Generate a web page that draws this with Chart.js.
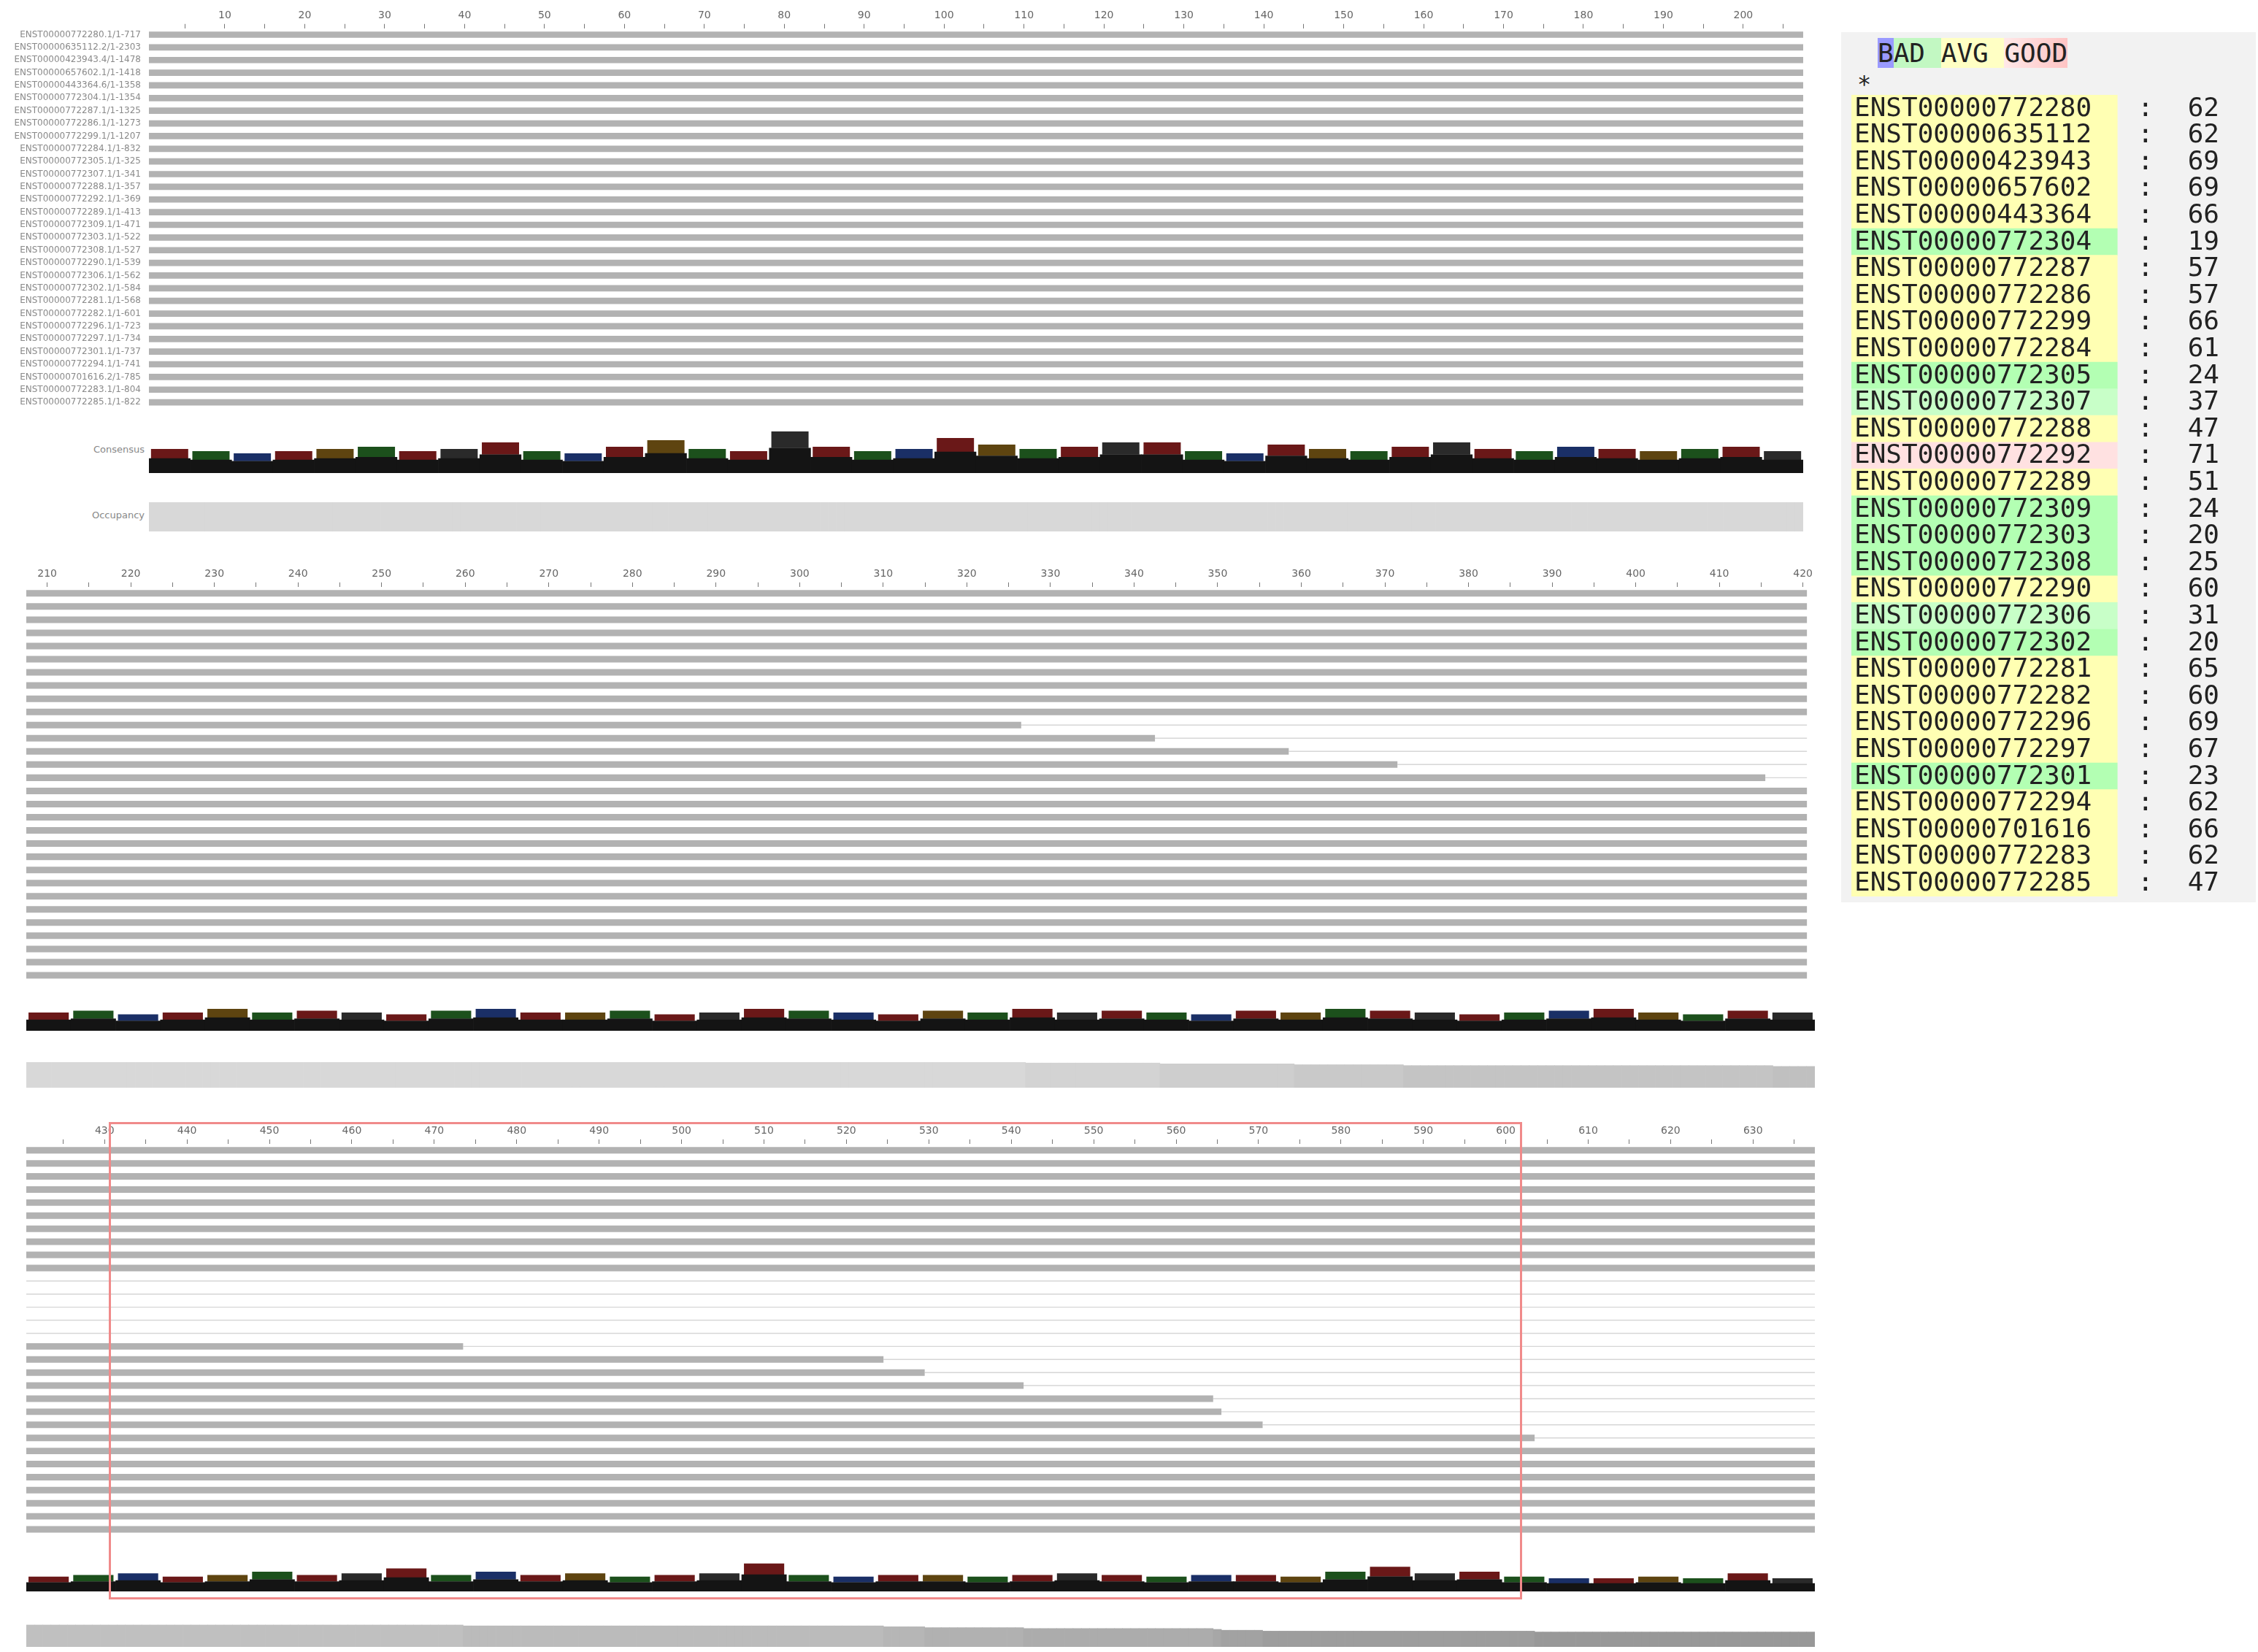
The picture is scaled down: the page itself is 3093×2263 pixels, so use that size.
<!DOCTYPE html>
<html><head><meta charset="utf-8">
<script src="https://cdn.jsdelivr.net/npm/chart.js@4"></script>
<style>
body{margin:0;background:#fff;width:3093px;height:2263px;position:relative;overflow:hidden;font-family:"DejaVu Sans",sans-serif}
.box{position:absolute}
.lbl{position:absolute;font-size:13px;color:#888;text-align:right;width:170px}
</style></head><body>
<script>
// ---------- DATA ----------
const transcripts = ["ENST00000772280","ENST00000635112","ENST00000423943","ENST00000657602","ENST00000443364","ENST00000772304","ENST00000772287","ENST00000772286","ENST00000772299","ENST00000772284","ENST00000772305","ENST00000772307","ENST00000772288","ENST00000772292","ENST00000772289","ENST00000772309","ENST00000772303","ENST00000772308","ENST00000772290","ENST00000772306","ENST00000772302","ENST00000772281","ENST00000772282","ENST00000772296","ENST00000772297","ENST00000772301","ENST00000772294","ENST00000701616","ENST00000772283","ENST00000772285"];
const versions = [1,2,4,1,6,1,1,1,1,1,1,1,1,1,1,1,1,1,1,1,1,1,1,1,1,1,1,2,1,1];
const seqLengths = [717,2303,1478,1418,1358,1354,1325,1273,1207,832,325,341,357,369,413,471,522,527,539,562,584,568,601,723,734,737,741,785,804,822];
const scores = [62,62,69,69,66,19,57,57,66,61,24,37,47,71,51,24,20,25,60,31,20,65,60,69,67,23,62,66,62,47];
// alignment column ranges of the three blocks
const blockStart = [1,208,421];
const blockEnd = [207,420,637];
// last aligned column of each row
const rowEnd = [637,637,637,637,637,637,637,637,637,637,326,342,358,371,415,473,524,529,541,564,565,570,603,637,637,637,637,637,637,637];
// consensus bar heights (0-1), binned, per block
const consensus1 = [.55,.5,.45,.5,.55,.6,.5,.55,.7,.5,.45,.6,.75,.55,.5,.95,.6,.5,.55,.8,.65,.55,.6,.7,.7,.5,.45,.65,.55,.5,.6,.7,.55,.5,.6,.55,.5,.55,.6,.5];
const consensus2 = [.5,.55,.45,.5,.6,.5,.55,.5,.45,.55,.6,.5,.5,.55,.45,.5,.6,.55,.5,.45,.55,.5,.6,.5,.55,.5,.45,.55,.5,.6,.55,.5,.45,.5,.55,.6,.5,.45,.55,.5];
const consensus3 = [.45,.5,.55,.45,.5,.6,.5,.55,.7,.5,.6,.5,.55,.45,.5,.55,.85,.5,.45,.5,.5,.45,.5,.55,.5,.45,.5,.5,.45,.6,.75,.55,.6,.45,.4,.4,.45,.4,.55,.4];
const consensusSets = [consensus1, consensus2, consensus3];
// ---------- LAYOUT ----------
Chart.defaults.font.family = '"DejaVu Sans", sans-serif';
const blockLayout = [
  {seq:[10,10,2460,560], cons:[204,588,2266,60], occ:[204,688,2266,40], labels:true},
  {seq:[36,775,2450,570], cons:[36,1362,2450,50], occ:[36,1455,2450,35], labels:false},
  {seq:[36,1538,2450,566], cons:[36,2135,2450,45], occ:[36,2220,2450,36], labels:false}
];
function box(r){const d=document.createElement('div');d.className='box';d.style.left=r[0]+'px';d.style.top=r[1]+'px';d.style.width=r[2]+'px';d.style.height=r[3]+'px';const c=document.createElement('canvas');d.appendChild(c);document.body.appendChild(d);return c;}
const rowLabels = transcripts.map((t,i)=>t+'.'+versions[i]+'/1-'+seqLengths[i]);
const topColors = ['#6a1818','#1c501c','#1a2f66','#6a1818','#5e4410','#1c501c','#6a1818','#2a2a2a'];
function occColor(v){const g=Math.round(150+(Math.max(v,0.55)-0.55)/0.45*66);return 'rgb('+g+','+g+','+g+')';}

blockLayout.forEach((L,b)=>{
  const s=blockStart[b], e=blockEnd[b];
  const seqBars=[], gapBars=[];
  rowEnd.forEach(re=>{
    const end=Math.min(re,e);
    seqBars.push(end>=s?[s-0.5,end+0.5]:null);
    gapBars.push(end<e?[Math.max(end,s-1)+0.5,e+0.5]:null);
  });
  new Chart(box(L.seq),{type:'bar',
    data:{labels:rowLabels,datasets:[
      {data:seqBars,backgroundColor:'#b2b2b2',barPercentage:0.5,categoryPercentage:1,grouped:false},
      {data:gapBars,backgroundColor:'#d6d6d6',barPercentage:0.08,categoryPercentage:1,grouped:false}]},
    options:{indexAxis:'y',responsive:true,maintainAspectRatio:false,animation:false,devicePixelRatio:1,
      layout:{padding:0},plugins:{legend:{display:false},tooltip:{enabled:false}},
      scales:{
        x:{type:'linear',position:'top',min:s-0.5,max:e+0.5,
          ticks:{stepSize:5,autoSkip:false,color:'#666',font:{size:14},maxRotation:0,
            callback:v=>(v%10===0?String(v):'')},
          afterBuildTicks:sc=>{const t=[];for(let v=Math.ceil(s/5)*5;v<=e;v+=5)t.push({value:v});sc.ticks=t;},
          grid:{drawOnChartArea:false,tickLength:6,color:'#777'},border:{display:false}},
        y:{display:L.labels,ticks:{color:'#8a8a8a',font:{size:12},autoSkip:false},grid:{display:false},border:{display:false},
          afterFit:sc=>{sc.width=L.labels?194:0;}}
      }}});
  // consensus
  const cons=consensusSets[b];
  new Chart(box(L.cons),{type:'bar',
    data:{labels:cons.map((_,i)=>i),datasets:[
      {data:cons.map(v=>v*0.6),backgroundColor:'#141414',stack:'c',barPercentage:1,categoryPercentage:1},
      {data:cons.map(v=>v*0.4),backgroundColor:cons.map((_,i)=>topColors[i%topColors.length]),stack:'c',barPercentage:1,categoryPercentage:0.9}]},
    options:{responsive:true,maintainAspectRatio:false,animation:false,devicePixelRatio:1,layout:{padding:0},
      plugins:{legend:{display:false},tooltip:{enabled:false}},
      scales:{x:{display:false,stacked:true},y:{display:false,stacked:true,min:0,max:1}}}});
  // occupancy (derived from row coverage)
  const cols=[],occ=[];
  for(let c=s;c<=e;c++){cols.push(c);occ.push(rowEnd.filter(r=>r>=c).length/rowEnd.length);}
  new Chart(box(L.occ),{type:'bar',
    data:{labels:cols,datasets:[{data:occ,backgroundColor:occ.map(occColor),barPercentage:1,categoryPercentage:1}]},
    options:{responsive:true,maintainAspectRatio:false,animation:false,devicePixelRatio:1,layout:{padding:0},
      plugins:{legend:{display:false},tooltip:{enabled:false}},
      scales:{x:{display:false},y:{display:false,min:0,max:1}}}});
});
// side labels
[['Consensus',608],['Occupancy',698]].forEach(([t,y])=>{const d=document.createElement('div');d.className='lbl';d.style.left='28px';d.style.top=y+'px';d.textContent=t;document.body.appendChild(d);});
// red selection box
const rb=document.createElement('div');rb.className='box';Object.assign(rb.style,{left:'149px',top:'1537px',width:'1930px',height:'648px',border:'3px solid #f08a8a'});document.body.appendChild(rb);

// ---------- score panel ----------
const panel=document.createElement('div');panel.className='box';
Object.assign(panel.style,{left:'2522px',top:'44px',width:'568px',height:'1192px',background:'#f2f2f2'});
panel.innerHTML='<div style="position:absolute;left:50px;top:8px;font:36px \'DejaVu Sans Mono\',monospace;line-height:42px;color:#222">'+
 '<span style="background:#9a9aff">B</span><span style="background:#c2f8c2">AD </span><span style="background:#ffffc4">AVG </span><span style="background:linear-gradient(90deg,#ffe8e8,#ffc4c4)">GOOD</span></div>'+
 '<div style="position:absolute;left:22px;top:52px;font:32px \'DejaVu Sans Mono\',monospace;color:#222">*</div>';
document.body.appendChild(panel);
function scoreColor(v){return v<30?'#b3ffb3':v<40?'#c8ffc8':v<70?'#ffffb3':'#ffe1e1';}
const pc=document.createElement('canvas');const pd=document.createElement('div');pd.className='box';
Object.assign(pd.style,{left:'2536px',top:'130px',width:'530px',height:'1098px'});pd.appendChild(pc);document.body.appendChild(pd);
const scoreText={id:'scoreText',afterDatasetsDraw(ch){const ctx=ch.ctx,y=ch.scales.y;ctx.save();ctx.font='36px "DejaVu Sans Mono"';ctx.fillStyle='#222';ctx.textBaseline='middle';
  scores.forEach((v,i)=>{const yy=y.getPixelForValue(i);ctx.textAlign='left';ctx.fillText(transcripts[i],4,yy+1);ctx.fillText(':',392,yy+1);ctx.textAlign='right';ctx.fillText(String(v),504,yy+1);});ctx.restore();}};
new Chart(pc,{type:'bar',
  data:{labels:transcripts,datasets:[{data:scores.map(()=>[0,1]),backgroundColor:scores.map(scoreColor),barPercentage:1,categoryPercentage:1}]},
  options:{indexAxis:'y',responsive:true,maintainAspectRatio:false,animation:false,devicePixelRatio:1,layout:{padding:0},
    plugins:{legend:{display:false},tooltip:{enabled:false}},
    scales:{x:{display:false,min:0,max:1.455},y:{display:false}}},
  plugins:[scoreText]});
</script>
</body></html>
